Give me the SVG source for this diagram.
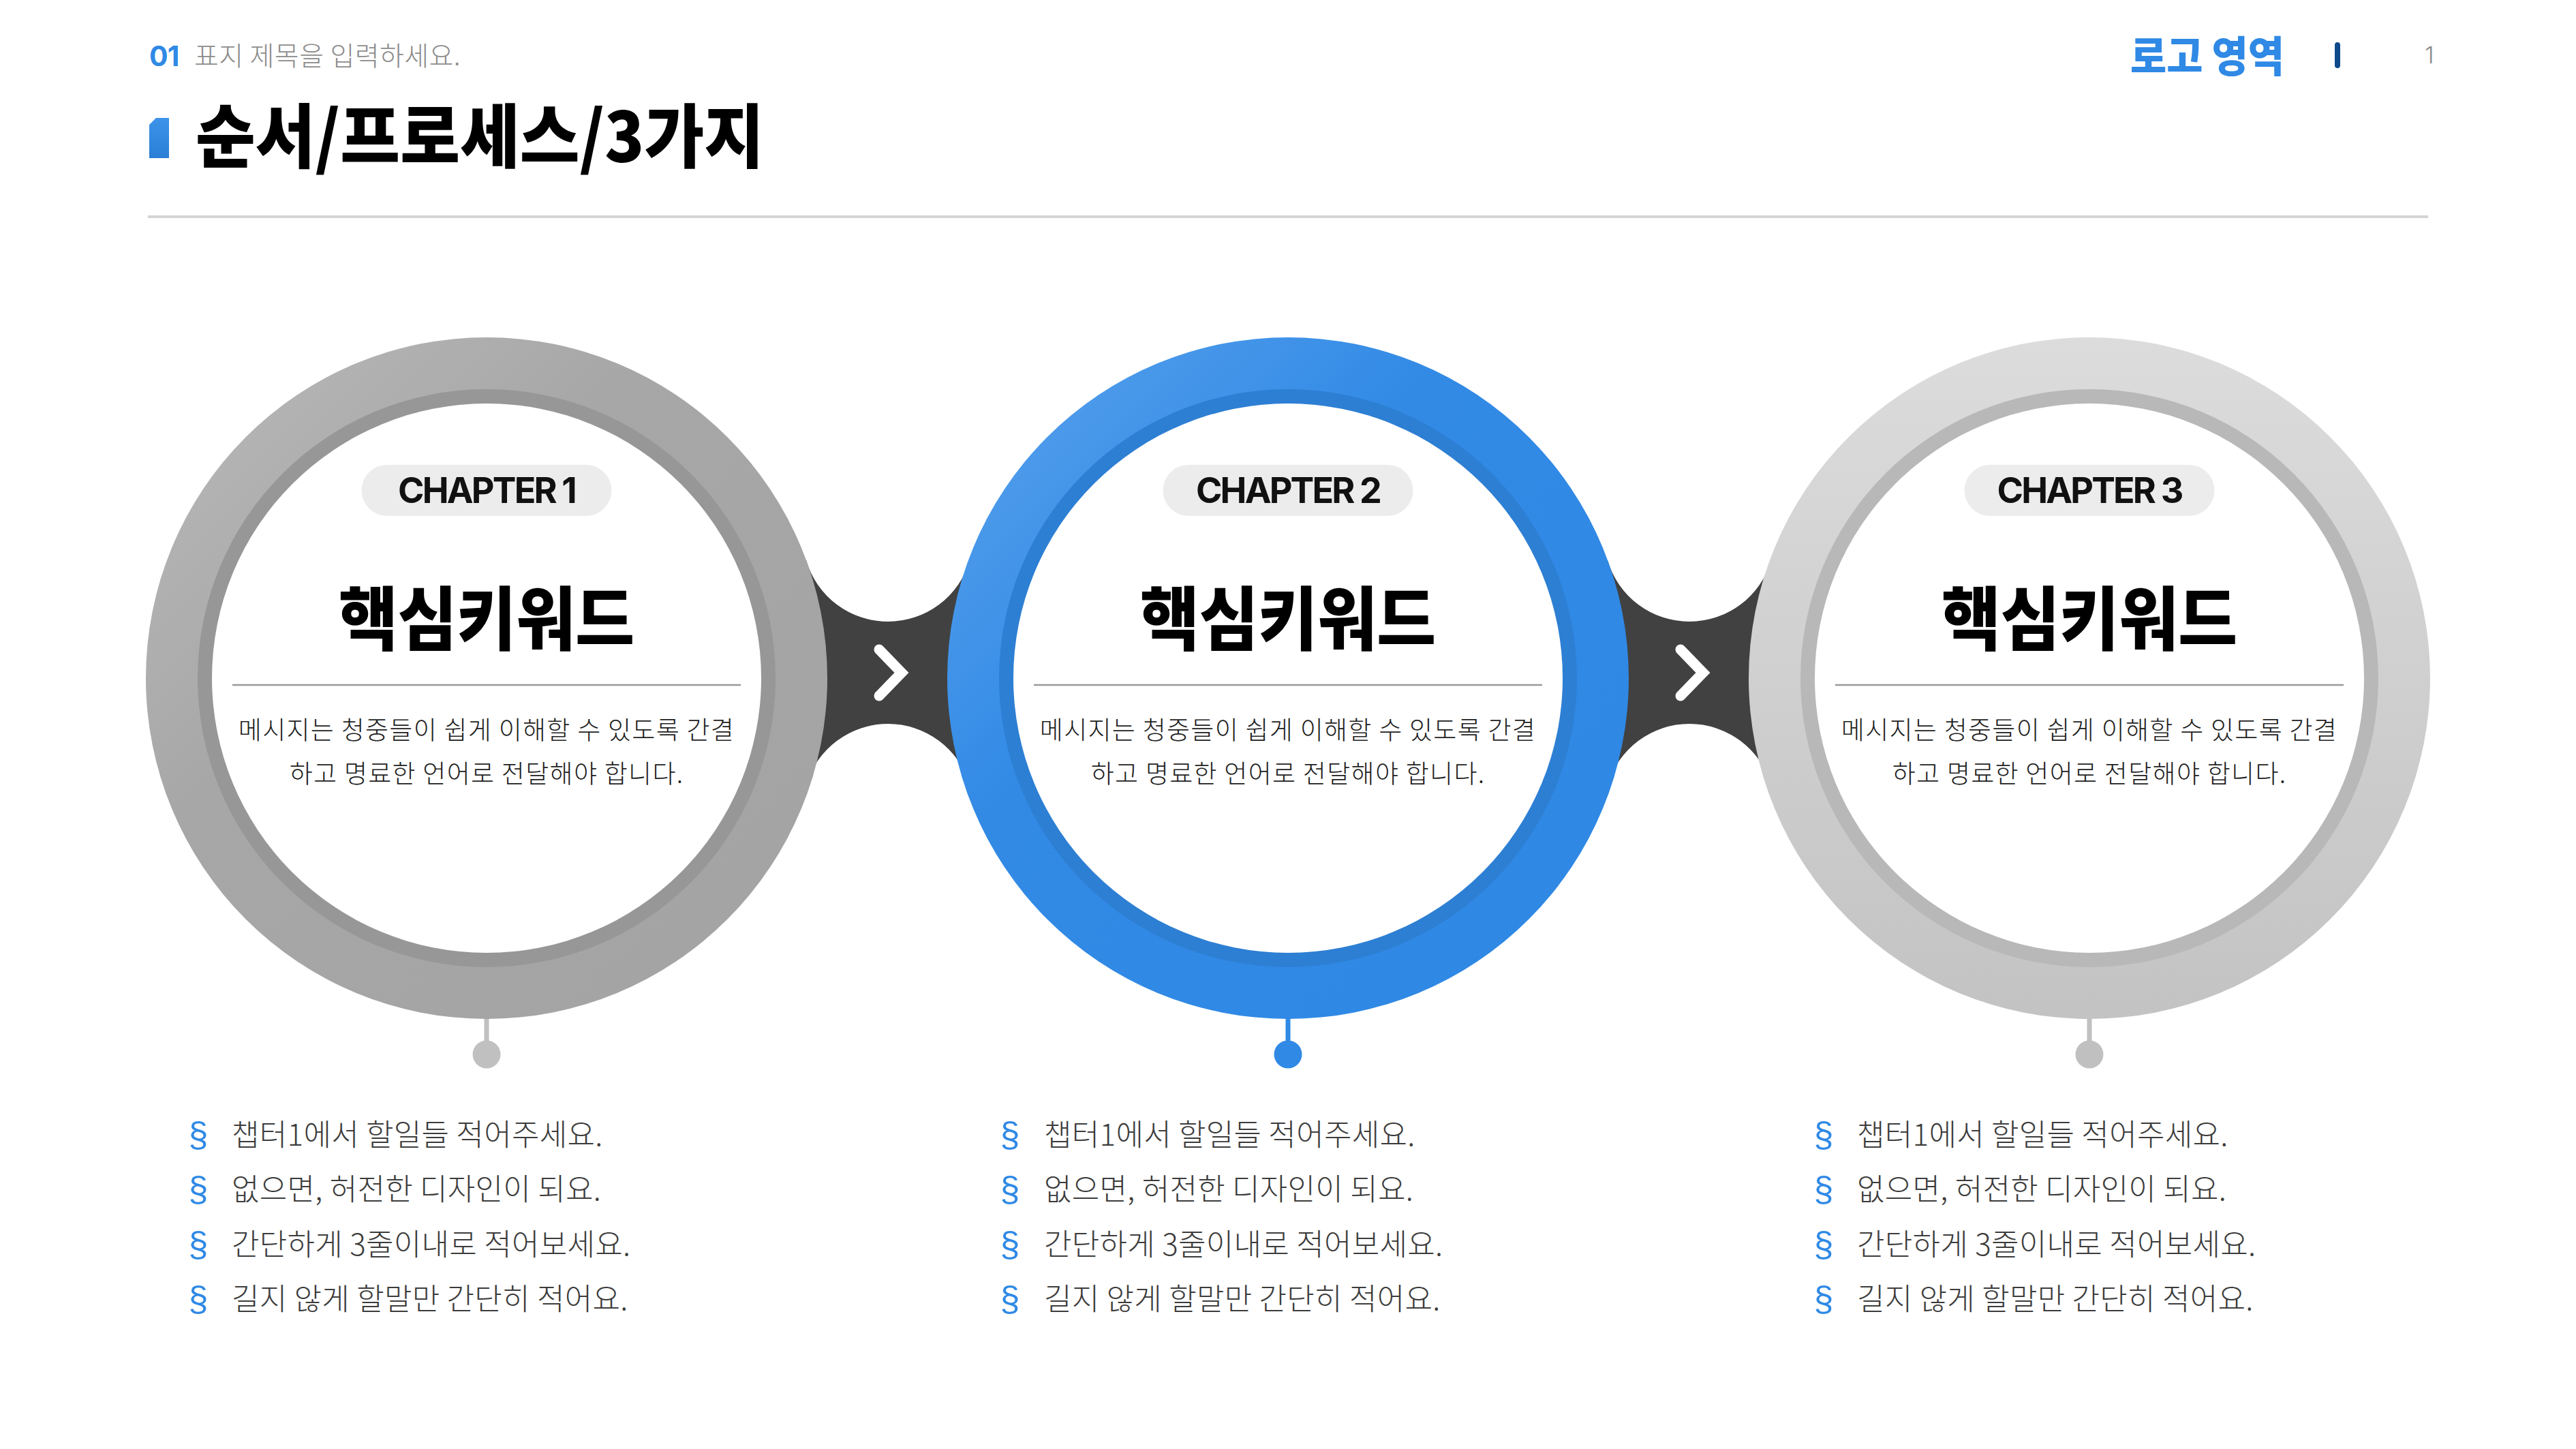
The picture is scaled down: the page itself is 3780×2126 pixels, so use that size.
<svg xmlns="http://www.w3.org/2000/svg" width="3780" height="2126" viewBox="0 0 3780 2126">
<style>
.kr{font-family:'Noto Sans CJK KR','Noto Sans',sans-serif;}
.lat{font-family:Inter,'Noto Sans',sans-serif;}
.kw{font-weight:900;font-size:102px;fill:#000;text-anchor:middle;}
.chap{font-weight:700;font-size:52px;fill:#111;text-anchor:middle;letter-spacing:-2.8px;}
.body{font-weight:300;font-size:37px;fill:#1e1e1e;text-anchor:middle;letter-spacing:1.3px;}
.bul{font-weight:300;font-size:44px;fill:#3c3c3c;letter-spacing:0.3px;}
.sect{font-family:'Liberation Sans',sans-serif;font-size:52px;fill:#2f89e5;text-anchor:middle;}
.pill{fill:#ececec;}
.div{stroke:#9a9a9a;stroke-width:2.5;}
.chev{fill:none;stroke:#fff;stroke-width:15;stroke-linecap:round;stroke-linejoin:miter;}
.joint{fill:#414141;}
</style>
<defs>
<linearGradient id="g1" x1="0" y1="0" x2="1" y2="1">
<stop offset="0" stop-color="#bababa"/><stop offset="0.38" stop-color="#a7a7a7"/><stop offset="1" stop-color="#a3a3a3"/>
</linearGradient>
<linearGradient id="g2" x1="0" y1="0" x2="1" y2="1">
<stop offset="0" stop-color="#5aa3ee"/><stop offset="0.38" stop-color="#328ae5"/><stop offset="1" stop-color="#2e88e4"/>
</linearGradient>
<linearGradient id="g3" x1="0" y1="0" x2="0" y2="1">
<stop offset="0" stop-color="#dcdcdc"/><stop offset="1" stop-color="#c3c3c3"/>
</linearGradient>
<linearGradient id="gm" x1="0" y1="0" x2="0" y2="1">
<stop offset="0" stop-color="#3d93ea"/><stop offset="1" stop-color="#2a7ed6"/>
</linearGradient>
</defs>
<rect width="3780" height="2126" fill="#fff"/>

<g id="header">
<text class="lat" x="219" y="97" font-size="41" font-weight="700" fill="#2f89e5" letter-spacing="-1">01</text>
<text class="kr" x="285" y="96" font-size="39" font-weight="300" fill="#8c8c8c" letter-spacing="0.4">표지 제목을 입력하세요.</text>
<path d="M219 183 L229 173 L248 173 L248 232 L219 232 Z" fill="url(#gm)"/>
<text class="kr" x="287" y="238" font-size="102" font-weight="900" fill="#000" textLength="834" lengthAdjust="spacingAndGlyphs">순서/프로세스/3가지</text>
<rect x="217" y="316" width="3346" height="4" fill="#d4d4d4"/>
<text class="kr" x="3126" y="106" font-size="62" font-weight="900" fill="#2f89e5" textLength="226" lengthAdjust="spacingAndGlyphs">로고 영역</text>
<rect x="3426" y="62" width="8" height="38" rx="4" fill="#0e4a8b"/>
<text class="lat" x="3565" y="93" font-size="34" font-weight="300" fill="#8a8a8a" text-anchor="middle">1</text>
</g>

<g id="connectors">
<path class="joint" d="M1150 822 L1183 822 A125 125 0 0 0 1423 822 L1460 822 L1460 1152 L1423 1152 A125 125 0 0 0 1183 1152 L1150 1152 Z"/>
<path class="joint" d="M2326 822 L2359 822 A125 125 0 0 0 2599 822 L2636 822 L2636 1152 L2599 1152 A125 125 0 0 0 2359 1152 L2326 1152 Z"/>
<polyline class="chev" points="1290,953 1323,987 1290,1021"/>
<polyline class="chev" points="2466,953 2499,987 2466,1021"/>
</g>

<g id="node1">
<rect x="710.5" y="1490" width="7" height="40" fill="#c0c0c0"/>
<circle cx="714" cy="1547" r="20.5" fill="#c0c0c0"/>
<circle cx="714" cy="995" r="500" fill="url(#g1)"/>
<circle cx="714" cy="995" r="424" fill="#979797"/>
<circle cx="714" cy="995" r="403" fill="#fff"/>
<rect class="pill" x="530.5" y="682" width="367" height="75" rx="37.5"/>
<text class="lat chap" x="714" y="738">CHAPTER 1</text>
<text class="kr kw" x="714" y="946" textLength="434" lengthAdjust="spacingAndGlyphs">핵심키워드</text>
<line class="div" x1="341" y1="1005" x2="1087" y2="1005"/>
<text class="kr body" x="714" y="1085">메시지는 청중들이 쉽게 이해할 수 있도록 간결</text>
<text class="kr body" x="714" y="1149">하고 명료한 언어로 전달해야 합니다.</text>
</g>

<g id="node2">
<rect x="1886.5" y="1490" width="7" height="40" fill="#2f89e5"/>
<circle cx="1890" cy="1547" r="20.5" fill="#2f89e5"/>
<circle cx="1890" cy="995" r="500" fill="url(#g2)"/>
<circle cx="1890" cy="995" r="424" fill="#2d7fd3"/>
<circle cx="1890" cy="995" r="403" fill="#fff"/>
<rect class="pill" x="1706.5" y="682" width="367" height="75" rx="37.5"/>
<text class="lat chap" x="1890" y="738">CHAPTER 2</text>
<text class="kr kw" x="1890" y="946" textLength="434" lengthAdjust="spacingAndGlyphs">핵심키워드</text>
<line class="div" x1="1517" y1="1005" x2="2263" y2="1005"/>
<text class="kr body" x="1890" y="1085">메시지는 청중들이 쉽게 이해할 수 있도록 간결</text>
<text class="kr body" x="1890" y="1149">하고 명료한 언어로 전달해야 합니다.</text>
</g>

<g id="node3">
<rect x="3062.5" y="1490" width="7" height="40" fill="#c0c0c0"/>
<circle cx="3066" cy="1547" r="20.5" fill="#c0c0c0"/>
<circle cx="3066" cy="995" r="500" fill="url(#g3)"/>
<circle cx="3066" cy="995" r="424" fill="#b8b8b8"/>
<circle cx="3066" cy="995" r="403" fill="#fff"/>
<rect class="pill" x="2882.5" y="682" width="367" height="75" rx="37.5"/>
<text class="lat chap" x="3066" y="738">CHAPTER 3</text>
<text class="kr kw" x="3066" y="946" textLength="434" lengthAdjust="spacingAndGlyphs">핵심키워드</text>
<line class="div" x1="2693" y1="1005" x2="3439" y2="1005"/>
<text class="kr body" x="3066" y="1085">메시지는 청중들이 쉽게 이해할 수 있도록 간결</text>
<text class="kr body" x="3066" y="1149">하고 명료한 언어로 전달해야 합니다.</text>
</g>

<g id="list1">
<text class="sect" x="291" y="1683">§</text>
<text class="sect" x="291" y="1763">§</text>
<text class="sect" x="291" y="1844">§</text>
<text class="sect" x="291" y="1924">§</text>
<text class="kr bul" x="340" y="1681">챕터1에서 할일들 적어주세요.</text>
<text class="kr bul" x="340" y="1761">없으면, 허전한 디자인이 되요.</text>
<text class="kr bul" x="340" y="1842">간단하게 3줄이내로 적어보세요.</text>
<text class="kr bul" x="340" y="1922">길지 않게 할말만 간단히 적어요.</text>
</g>

<g id="list2">
<text class="sect" x="1482" y="1683">§</text>
<text class="sect" x="1482" y="1763">§</text>
<text class="sect" x="1482" y="1844">§</text>
<text class="sect" x="1482" y="1924">§</text>
<text class="kr bul" x="1532" y="1681">챕터1에서 할일들 적어주세요.</text>
<text class="kr bul" x="1532" y="1761">없으면, 허전한 디자인이 되요.</text>
<text class="kr bul" x="1532" y="1842">간단하게 3줄이내로 적어보세요.</text>
<text class="kr bul" x="1532" y="1922">길지 않게 할말만 간단히 적어요.</text>
</g>

<g id="list3">
<text class="sect" x="2676" y="1683">§</text>
<text class="sect" x="2676" y="1763">§</text>
<text class="sect" x="2676" y="1844">§</text>
<text class="sect" x="2676" y="1924">§</text>
<text class="kr bul" x="2725" y="1681">챕터1에서 할일들 적어주세요.</text>
<text class="kr bul" x="2725" y="1761">없으면, 허전한 디자인이 되요.</text>
<text class="kr bul" x="2725" y="1842">간단하게 3줄이내로 적어보세요.</text>
<text class="kr bul" x="2725" y="1922">길지 않게 할말만 간단히 적어요.</text>
</g>
</svg>
